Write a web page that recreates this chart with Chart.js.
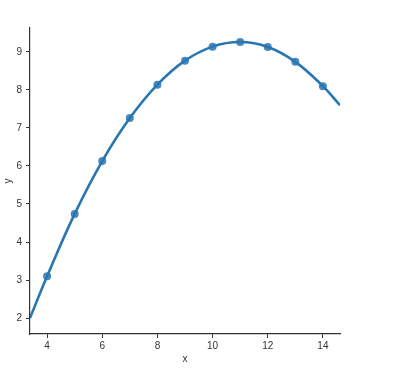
<!DOCTYPE html>
<html lang="en">
<head>
    <meta charset="UTF-8">
    <title>lmplot</title>
    <script src="https://cdn.jsdelivr.net/npm/chart.js@4"></script>
    <style>
        body { margin: 0; background: #fff; }
    </style>
</head>
<body>
    <canvas id="myChart" width="413" height="381"></canvas>

<script>
    // observed points
    var pontosX = [4, 5, 6, 7, 8, 9, 10, 11, 12, 13, 14];
    var pontosY = [3.10, 4.74, 6.13, 7.26, 8.14, 8.77, 9.14, 9.26, 9.13, 8.74, 8.10];

    // fitted curve
    var curvaX = [3.38, 4, 5, 6, 7, 8, 9, 10, 11, 12, 13, 14, 14.62];
    var curvaY = [2.0, 3.10, 4.74, 6.13, 7.26, 8.14, 8.77, 9.14, 9.26, 9.13, 8.74, 8.10, 7.6];

    var ticksX = [4, 6, 8, 10, 12, 14];
    var ticksY = [2, 3, 4, 5, 6, 7, 8, 9];

    var azul = 'rgb(40, 118, 178)';
    var corTexto = '#333333';

    function juntar(xs, ys) {
        var lista = [];
        for (var i = 0; i < xs.length; i++) {
            lista.push({ x: xs[i], y: ys[i] });
        }
        return lista;
    }

    Chart.defaults.font.family = "'Liberation Sans', Arial, sans-serif";
    Chart.defaults.font.size = 10;
    Chart.defaults.color = corTexto;

    const config = {
        type: 'scatter',
        data: {
            datasets: [{
                data: juntar(pontosX, pontosY),
                backgroundColor: 'rgba(40, 118, 178, 0.85)',
                borderWidth: 0,
                pointRadius: 4,
                order: 2
            }, {
                data: juntar(curvaX, curvaY),
                showLine: true,
                borderColor: azul,
                borderWidth: 2.6,
                pointRadius: 0,
                tension: 0.4,
                order: 1
            }]
        },
        options: {
            responsive: false,
            animation: false,
            layout: { padding: { left: 0, top: 28, right: 73, bottom: 12 } },
            plugins: { legend: { display: false }, tooltip: { enabled: false } },
            scales: {
                x: {
                    type: 'linear',
                    min: 3.38,
                    max: 14.62,
                    afterBuildTicks: function (s) { s.ticks = ticksX.map(v => ({ value: v })); },
                    afterFit: function (s) { s.height = 35; },
                    grid: { drawOnChartArea: false, drawTicks: true, tickLength: 4, color: corTexto },
                    border: { display: true, color: corTexto, width: 1.2 },
                    ticks: { padding: 2, color: corTexto },
                    title: { display: true, text: 'x', color: corTexto, padding: { top: 4, bottom: 4 } }
                },
                y: {
                    type: 'linear',
                    min: 1.58,
                    max: 9.63,
                    afterBuildTicks: function (s) { s.ticks = ticksY.map(v => ({ value: v })); },
                    afterFit: function (s) { s.width = 30; },
                    grid: { drawOnChartArea: false, drawTicks: true, tickLength: 4, color: corTexto },
                    border: { display: true, color: corTexto, width: 1.2 },
                    ticks: { padding: 4, color: corTexto },
                    title: { display: true, text: 'y', color: corTexto, padding: { top: 2, bottom: 2 } }
                }
            }
        }
    };

    const myChart = new Chart(document.getElementById('myChart'), config);
</script>
</body>
</html>
